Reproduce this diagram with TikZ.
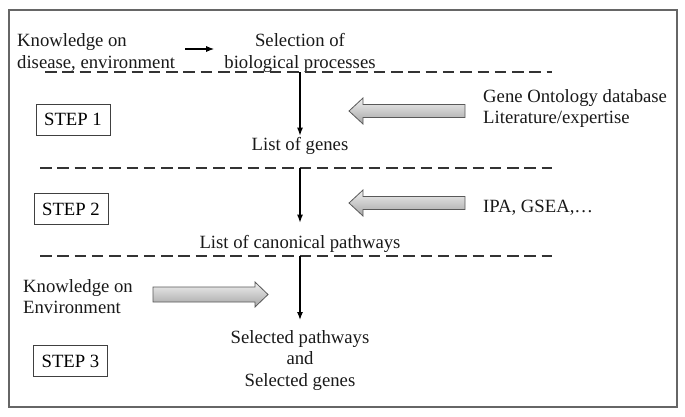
\documentclass[tikz,border=0pt]{standalone}
\usepackage{fontspec}
\setmainfont{Liberation Serif}
\usetikzlibrary{arrows.meta}
\begin{document}
\begin{tikzpicture}[x=1pt,y=-1pt,
  txt/.style={inner sep=0pt, font=\fontsize{18.7}{21.5}\selectfont, text=black!90},
  stepbox/.style={draw=black!75, line width=0.8pt, minimum width=74pt, minimum height=31pt, inner sep=0pt, font=\fontsize{18.7}{21.5}\selectfont},
  dline/.style={line width=2pt, dash pattern=on 11.5pt off 5.8pt, black!80},
  flow/.style={-{Latex[length=8pt,width=6pt]}, line width=1.2pt},
  garrow/.style={draw=black!65, line width=0.8pt, top color=black!6, bottom color=black!35}
]
\useasboundingbox (0,0) rectangle (685,416);
\draw[black!60, line width=1.2pt] (9,10) rectangle (677,407);

% top row
\node[txt, anchor=north west, align=left] (know1) at (17,33.5) {Knowledge on\\disease, environment};
\node[txt, anchor=north, align=center] (sel) at (300,33.5) {Selection of\\biological processes};
\coordinate (ay) at (0,49);
\draw[flow, shorten <=10pt, shorten >=10pt] (know1.east|-ay) -- (sel.west|-ay);

% dashed lines
\coordinate (d1a) at (45,72);  \coordinate (d1b) at (552,72);
\coordinate (d2a) at (40,168); \coordinate (d2b) at (552,168);
\coordinate (d3a) at (40,256); \coordinate (d3b) at (552,256);
\draw[dline] (d1a) -- (d1b);
\draw[dline] (d2a) -- (d2b);
\draw[dline] (d3a) -- (d3b);

% middle texts
\node[txt, anchor=base] (genes) at (300,150) {List of genes};
\node[txt, anchor=base] (canon) at (300,248) {List of canonical pathways};
\node[txt, anchor=north, align=center] (selected) at (300,330) {Selected pathways\\and\\Selected genes};

% vertical arrows
\coordinate (v1) at (300,72);
\coordinate (v2) at (300,168);
\coordinate (v3) at (300,256);
\draw[flow, shorten >=1pt] (v1) -- (genes.north);
\draw[flow, shorten >=12pt] (v2) -- (canon.north);
\draw[flow, shorten >=10pt] (v3) -- (selected.north);

% step boxes
\node[stepbox] (s1) at (73,119.5) {STEP 1};
\node[stepbox] (s2) at (71,209) {STEP 2};
\node[stepbox] (s3) at (70.5,361) {STEP 3};

% right side texts
\node[txt, anchor=north west, align=left] (go) at (483,89) {Gene Ontology database\\Literature/expertise};
\node[txt, anchor=base west] (ipa) at (483,212) {IPA, GSEA,\ldots};
\node[txt, anchor=north west, align=left] (know2) at (23,279) {Knowledge on\\Environment};

% gray block arrows
\draw[garrow] (465,104.5) -- (363,104.5) -- (363,98) -- (349,111) -- (363,124) -- (363,117.5) -- (465,117.5) -- cycle;
\draw[garrow] (465,196.5) -- (363,196.5) -- (363,190) -- (349,203) -- (363,216) -- (363,209.5) -- (465,209.5) -- cycle;
\draw[garrow] (153,287) -- (255,287) -- (255,282) -- (268,294.5) -- (255,307) -- (255,302) -- (153,302) -- cycle;
\end{tikzpicture}
\end{document}
